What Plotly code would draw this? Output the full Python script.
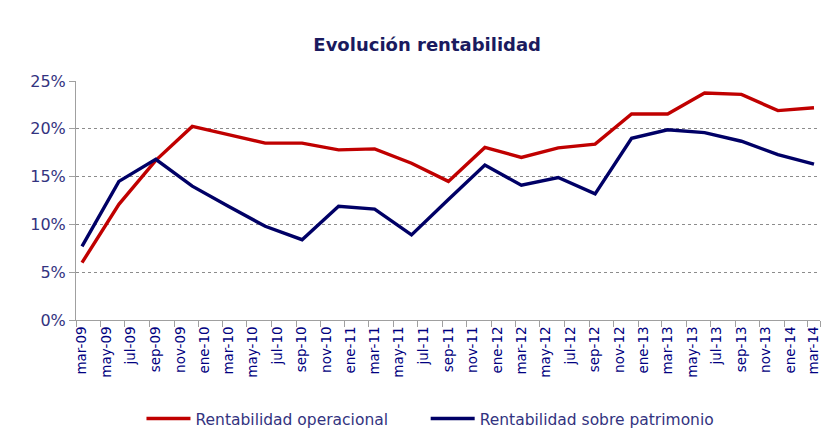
import pandas as pd
import plotly.graph_objects as go

# Quarterly observations (first day of the month)
quarters = ["2009-03-01", "2009-06-01", "2009-09-01", "2009-12-01",
            "2010-03-01", "2010-06-01", "2010-09-01", "2010-12-01",
            "2011-03-01", "2011-06-01", "2011-09-01", "2011-12-01",
            "2012-03-01", "2012-06-01", "2012-09-01", "2012-12-01",
            "2013-03-01", "2013-06-01", "2013-09-01", "2013-12-01",
            "2014-03-01"]

rent_operacional = [0.060, 0.121, 0.167, 0.2025, 0.194, 0.185, 0.185, 0.178,
                    0.179, 0.164, 0.145, 0.1805, 0.170, 0.180, 0.184, 0.2155,
                    0.2155, 0.2375, 0.236, 0.219, 0.222]

rent_patrimonio = [0.077, 0.145, 0.168, 0.140, 0.119, 0.098, 0.084, 0.119,
                   0.116, 0.089, 0.126, 0.162, 0.141, 0.149, 0.132, 0.190,
                   0.199, 0.196, 0.187, 0.173, 0.163]

tick_labels = ["mar-09", "may-09", "jul-09", "sep-09", "nov-09", "ene-10",
               "mar-10", "may-10", "jul-10", "sep-10", "nov-10", "ene-11",
               "mar-11", "may-11", "jul-11", "sep-11", "nov-11", "ene-12",
               "mar-12", "may-12", "jul-12", "sep-12", "nov-12", "ene-13",
               "mar-13", "may-13", "jul-13", "sep-13", "nov-13", "ene-14",
               "mar-14"]

tick_dates = pd.date_range("2009-03-01", periods=len(tick_labels), freq="2MS")
boundary_dates = list(tick_dates - pd.Timedelta(days=15)) + [tick_dates[-1] + pd.Timedelta(days=15)]

font_fam = "DejaVu Sans, Verdana, sans-serif"
label_col = "#333380"

fig = go.Figure()
fig.add_trace(go.Scatter(x=quarters, y=rent_operacional, mode="lines",
                         name="Rentabilidad operacional", legend="legend",
                         line=dict(color="#C00000", width=3.4)))
fig.add_trace(go.Scatter(x=quarters, y=rent_patrimonio, mode="lines",
                         name="Rentabilidad sobre patrimonio", legend="legend2",
                         line=dict(color="#000066", width=3.4)))

legend_style = dict(orientation="h", xanchor="left", y=-0.414, yanchor="middle",
                    font=dict(family=font_fam, size=15.5, color=label_col),
                    itemwidth=44, bgcolor="rgba(0,0,0,0)")

fig.update_layout(
    width=835, height=447,
    margin=dict(l=68, r=23, t=73, b=135),
    paper_bgcolor="white", plot_bgcolor="white",
    title=dict(text="<b>Evolución rentabilidad</b>", x=0.502, xanchor="center",
               y=0.917, yanchor="middle",
               font=dict(family=font_fam, size=18, color="#1a1a5e")),
    showlegend=True,
    legend=dict(x=0.088, **legend_style),
    legend2=dict(x=0.470, **legend_style),
    font=dict(family=font_fam),
)

fig.update_xaxes(
    type="date", automargin=False,
    range=[boundary_dates[0], boundary_dates[-1]],
    tickmode="array", tickvals=tick_dates, ticktext=tick_labels,
    tickangle=-90, ticks="", showgrid=False,
    tickfont=dict(family=font_fam, size=13.5, color="#000080"),
    showline=True, linecolor="#A0A0A0", linewidth=1,
    minor=dict(tickmode="array", tickvals=boundary_dates,
               ticks="outside", ticklen=6, tickcolor="#A0A0A0", showgrid=False),
    zeroline=False,
)

fig.update_yaxes(
    range=[0, 0.25], tickmode="array", automargin=False,
    tickvals=[0, 0.05, 0.10, 0.15, 0.20, 0.25],
    tickformat=".0%",
    ticks="outside", ticklen=6, tickcolor="#A0A0A0",
    tickfont=dict(family=font_fam, size=16, color=label_col),
    showgrid=True, gridcolor="#8C8C8C", griddash="dot", gridwidth=1,
    showline=True, linecolor="#A0A0A0", linewidth=1,
    zeroline=False,
)

fig.write_html("out.html")
